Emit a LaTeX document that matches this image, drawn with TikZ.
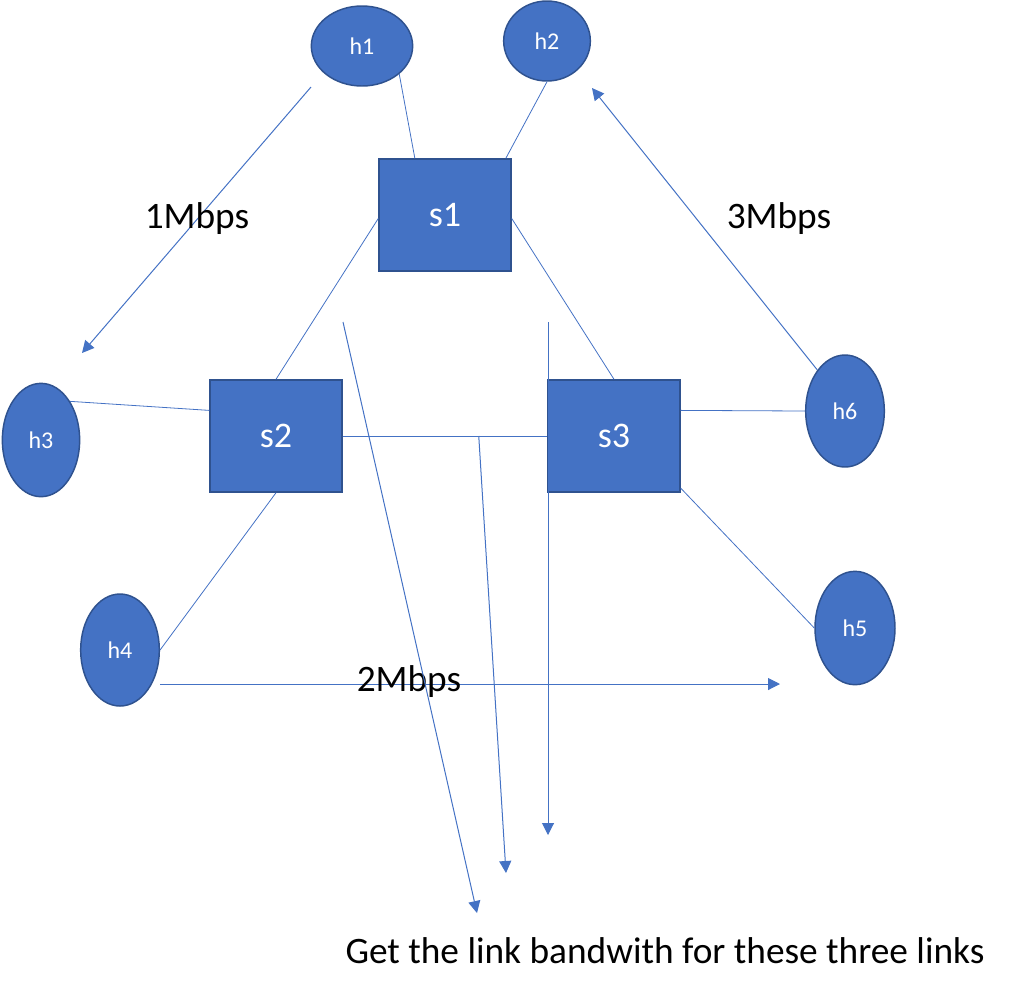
\documentclass[tikz,border=0pt]{standalone}
\usepackage{fontspec}
\setmainfont{Carlito}
\usepackage{tikz}
\usetikzlibrary{arrows.meta,calc,shapes.geometric}
\definecolor{boxblue}{HTML}{4472C4}
\definecolor{edgeblue}{HTML}{2F528F}

\begin{document}
\begin{tikzpicture}[x=0.75pt,y=-0.75pt,
  switch/.style={draw=edgeblue,line width=1.1pt,fill=boxblue,text=white,inner sep=0pt,
    minimum width=99pt,minimum height=84pt,font=\fontsize{27}{32}\selectfont},
  host/.style={ellipse,draw=edgeblue,line width=1.1pt,fill=boxblue,text=white,inner sep=0pt,
    font=\fontsize{18}{21}\selectfont},
  link/.style={boxblue,line width=0.6pt},
  flow/.style={boxblue,line width=0.75pt,-{Triangle[length=9pt,width=9pt]}},
  rate/.style={font=\fontsize{28}{33}\selectfont}]
\useasboundingbox (0,0) rectangle (1012,997);

% switches
\node[switch] (s1) at (445,215) {s1};
\node[switch] (s2) at (276,436) {s2};
\node[switch] (s3) at (614,436) {s3};

% hosts
\node[host,minimum width=76pt,minimum height=60pt] (h1) at (362,46) {h1};
\node[host,minimum width=65pt,minimum height=60pt] (h2) at (547,41) {h2};
\node[host,minimum width=58pt,minimum height=85pt] (h3) at (41,440) {h3};
\node[host,minimum width=59pt,minimum height=84pt] (h4) at (120,650) {h4};
\node[host,minimum width=60pt,minimum height=85pt] (h5) at (855,628) {h5};
\node[host,minimum width=59pt,minimum height=84pt] (h6) at (845,411) {h6};

% links
\draw[link] (h1.-37) -- (s1.118);
\draw[link] (h2.south) -- (s1.43);
\draw[link] (s1.183) -- (s2.north);
\draw[link] (s1.-3) -- (s3.north);
\draw[link] (h3.53) -- (s2.159);
\draw[link] (s2.south) -- (h4.east);
\draw[link] (s2.east) -- (s3.west);
\draw[link] (s3.21) -- (h6.west);
\draw[link] (s3.-38) -- (h5.west);

% flows
\coordinate (f1a) at (311,87);
\coordinate (f1b) at (82,353);
\coordinate (f2a) at (160,684);
\coordinate (f2b) at (780,684);
\coordinate (f3b) at (592,88);
\draw[flow] (f1a) -- (f1b);
\draw[flow] (h6.124) -- (f3b);
\draw[flow] (f2a) -- (f2b);
\node[rate] (r1) at (197,219) {1Mbps};
\node[rate] (r3) at (779,219) {3Mbps};
\node[rate] (r2) at (409,682) {2Mbps};

% the three links asked about
\coordinate (q1a) at (343,322);
\coordinate (q1b) at (477,913);
\coordinate (q2a) at ($(s2.east)!0.665!(s3.west)$);
\coordinate (q2b) at (506,873);
\coordinate (q3a) at (548,322);
\coordinate (q3b) at (548,835);
\draw[flow] (q1a) -- (q1b);
\draw[flow] (q2a) -- (q2b);
\draw[flow] (q3a) -- (q3b);
\node[rate] (ask) at (665,951) {Get the link bandwith for these three links};
\end{tikzpicture}
\end{document}
